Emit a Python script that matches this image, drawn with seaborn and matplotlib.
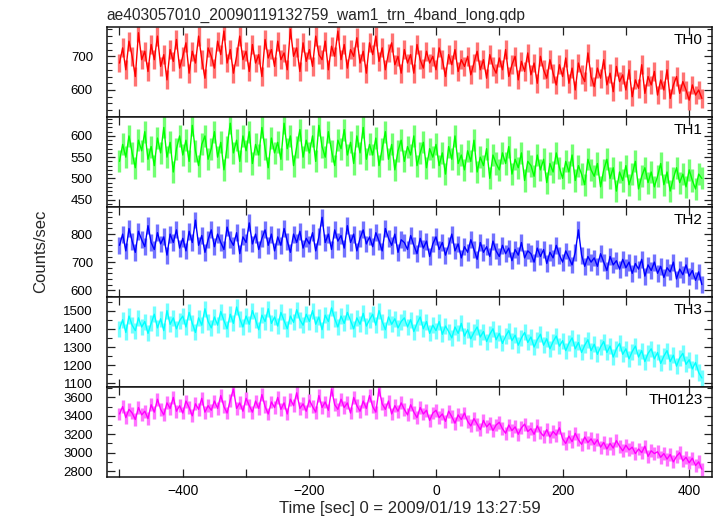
import numpy as np
import pandas as pd
import matplotlib
matplotlib.use("Agg")
import matplotlib.pyplot as plt
import seaborn as sns
from matplotlib.ticker import MultipleLocator
from matplotlib.colors import to_rgb

# ---------------- data (5 s sampling) ----------------
TITLE = "ae403057010_20090119132759_wam1_trn_4band_long.qdp"
XLABEL = "Time [sec] 0 = 2009/01/19 13:27:59"
YLABEL = "Counts/sec"

BANDS = ["TH0", "TH1", "TH2", "TH3", "TH0123"]
COLORS = ["#ff0000", "#00ff00", "#0000ff", "#00ffff", "#ff00ff"]
ERRORS = [28, 26, 30, 44, 70]          # typical 1-sigma bar sizes

TIME_START, TIME_STEP = -500, 5

th0 = [680, 725, 660, 745, 700, 640, 770, 690, 715, 655,
       735, 690, 760, 670, 705, 630, 720, 685, 750, 665,
       700, 740, 650, 715, 680, 760, 690, 635, 725, 700,
       665, 745, 705, 775, 680, 720, 650, 700, 760, 690,
       715, 655, 735, 680, 705, 640, 750, 695, 720, 670,
       745, 690, 710, 660, 780, 700, 725, 655, 740, 685,
       720, 670, 760, 705, 690, 745, 660, 730, 700, 775,
       690, 735, 665, 720, 700, 755, 680, 715, 650, 740,
       705, 760, 685, 725, 660, 710, 740, 675, 700, 650,
       720, 680, 705, 650, 735, 690, 665, 715, 680, 700,
       660, 725, 690, 640, 705, 675, 720, 655, 690, 670,
       700, 645, 680, 715, 660, 690, 635, 705, 670, 650,
       695, 660, 720, 640, 675, 700, 630, 685, 655, 710,
       645, 680, 620, 700, 660, 635, 690, 650, 615, 675,
       640, 695, 620, 665, 600, 680, 645, 625, 710, 640,
       610, 665, 635, 690, 615, 650, 595, 670, 625, 645,
       600, 660, 580, 630, 605, 675, 590, 640, 615, 655,
       585, 630, 600, 660, 575, 615, 640, 590, 625, 600,
       570, 615, 585, 600, 575]

th1 = [540, 580, 550, 600, 560, 525, 590, 565, 610, 545,
       575, 530, 595, 560, 620, 550, 585, 515, 570, 600,
       555, 590, 540, 625, 565, 530, 580, 600, 545, 570,
       610, 550, 585, 520, 575, 630, 560, 590, 540, 600,
       565, 610, 535, 580, 555, 620, 570, 525, 595, 560,
       585, 545, 630, 570, 600, 530, 575, 615, 550, 590,
       560, 600, 540, 625, 575, 550, 610, 565, 530, 590,
       570, 615, 555, 585, 535, 600, 560, 620, 545, 580,
       555, 595, 530, 570, 610, 545, 580, 520, 565, 590,
       540, 575, 555, 600, 530, 560, 585, 525, 570, 550,
       580, 530, 560, 510, 575, 545, 600, 535, 555, 520,
       565, 540, 590, 515, 550, 530, 570, 500, 555, 535,
       520, 560, 535, 575, 510, 545, 525, 560, 495, 540,
       530, 505, 555, 520, 545, 490, 535, 515, 560, 525,
       500, 540, 515, 555, 495, 530, 510, 485, 545, 520,
       505, 535, 480, 520, 545, 500, 525, 470, 515, 495,
       530, 485, 510, 540, 475, 505, 525, 490, 515, 480,
       505, 535, 485, 515, 470, 500, 525, 490, 510, 480,
       520, 495, 475, 510, 500]

th2 = [760, 800, 740, 820, 775, 735, 810, 780, 755, 830,
       770, 745, 805, 765, 790, 725, 800, 770, 815, 750,
       785, 740, 810, 770, 850, 760, 795, 735, 780, 815,
       755, 800, 770, 745, 825, 780, 760, 805, 730, 790,
       770, 840, 765, 800, 745, 785, 815, 760, 800, 740,
       790, 760, 820, 775, 735, 800, 770, 810, 750, 785,
       765, 805, 740, 790, 860, 770, 800, 745, 815, 775,
       795, 750, 830, 770, 800, 740, 785, 815, 765, 790,
       755, 805, 775, 740, 820, 785, 760, 800, 735, 780,
       770, 745, 795, 760, 730, 785, 750, 775, 720, 765,
       790, 745, 770, 725, 760, 800, 740, 765, 715, 755,
       735, 780, 745, 710, 770, 735, 755, 720, 775, 740,
       720, 760, 730, 750, 705, 745, 725, 770, 715, 740,
       730, 700, 750, 720, 745, 695, 735, 715, 760, 725,
       700, 740, 715, 690, 735, 815, 725, 685, 720, 700,
       715, 685, 730, 700, 670, 720, 690, 705, 675, 710,
       680, 700, 660, 695, 675, 710, 650, 690, 670, 700,
       660, 685, 645, 680, 665, 700, 640, 675, 655, 690,
       650, 670, 635, 665, 620]

th3 = [1400, 1450, 1380, 1470, 1420, 1390, 1460, 1410, 1440, 1375,
       1430, 1480, 1405, 1455, 1390, 1500, 1425, 1460, 1400, 1445,
       1470, 1410, 1490, 1430, 1380, 1460, 1420, 1510, 1440, 1405,
       1465, 1420, 1495, 1445, 1400, 1480, 1430, 1520, 1455, 1410,
       1470, 1425, 1500, 1450, 1395, 1475, 1440, 1510, 1430, 1465,
       1415, 1490, 1445, 1400, 1470, 1435, 1505, 1450, 1420, 1480,
       1440, 1500, 1425, 1465, 1395, 1475, 1440, 1515, 1455, 1410,
       1470, 1430, 1490, 1445, 1400, 1460, 1425, 1485, 1415, 1450,
       1480, 1420, 1500, 1440, 1395, 1465, 1425, 1455, 1405, 1440,
       1460, 1410, 1450, 1385, 1430, 1465, 1400, 1440, 1375, 1420,
       1390, 1440, 1370, 1415, 1385, 1350, 1410, 1375, 1430, 1360,
       1395, 1345, 1380, 1410, 1355, 1385, 1330, 1370, 1400, 1340,
       1375, 1320, 1360, 1390, 1335, 1365, 1310, 1350, 1380, 1325,
       1355, 1300, 1340, 1370, 1310, 1345, 1290, 1330, 1360, 1305,
       1335, 1280, 1320, 1350, 1290, 1325, 1270, 1310, 1340, 1280,
       1315, 1260, 1300, 1330, 1270, 1305, 1245, 1290, 1320, 1260,
       1290, 1235, 1275, 1305, 1245, 1280, 1220, 1265, 1290, 1235,
       1270, 1210, 1250, 1280, 1220, 1255, 1195, 1240, 1265, 1205,
       1230, 1180, 1215, 1160, 1130]

th0123 = [3420, 3500, 3380, 3470, 3430, 3360, 3490, 3410, 3450, 3370,
          3520, 3440, 3580, 3470, 3410, 3540, 3480, 3600, 3450, 3510,
          3430, 3560, 3490, 3400, 3530, 3470, 3590, 3440, 3510, 3460,
          3560, 3480, 3620, 3500, 3430, 3570, 3690, 3480, 3540, 3450,
          3590, 3510, 3440, 3560, 3480, 3630, 3500, 3420, 3550, 3490,
          3600, 3470, 3540, 3420, 3580, 3510, 3650, 3480, 3530, 3450,
          3570, 3500, 3440, 3620, 3490, 3550, 3460, 3690, 3520, 3470,
          3580, 3490, 3540, 3430, 3600, 3510, 3450, 3560, 3480, 3620,
          3500, 3440, 3690, 3530, 3470, 3560, 3420, 3510, 3450, 3540,
          3470, 3410, 3520, 3440, 3380, 3490, 3420, 3460, 3350, 3430,
          3460, 3380, 3420, 3340, 3450, 3390, 3320, 3410, 3360, 3430,
          3340, 3290, 3370, 3310, 3250, 3350, 3280, 3320, 3240, 3300,
          3330, 3260, 3210, 3300, 3240, 3280, 3200, 3270, 3310, 3230,
          3260, 3200, 3290, 3220, 3180, 3250, 3170, 3230, 3190, 3270,
          3150, 3100, 3180, 3120, 3210, 3140, 3090, 3170, 3110, 3150,
          3090, 3140, 3060, 3110, 3040, 3100, 3050, 3130, 3070, 3020,
          3080, 3030, 3060, 2990, 3040, 3000, 3070, 2960, 3020, 2990,
          3010, 2950, 2990, 2930, 2980, 2900, 2960, 3000, 2910, 2950,
          2890, 2940, 2860, 2900, 2820]

SERIES = [th0, th1, th2, th3, th0123]

# axis ranges / ticks per panel
YLIMS = [(519, 786), (432, 644), (575, 896), (1080, 1574), (2736, 3712)]
YMAJOR = [100, 50, 100, 100, 200]
YMINOR = [20, 10, 20, 50, 100]
XLIM = (-520, 436)

# ---------------- build table ----------------
rows = []
for band, vals in zip(BANDS, SERIES):
    t = TIME_START + TIME_STEP * np.arange(len(vals))
    rows.append(pd.DataFrame({"time": t, "rate": vals, "band": band}))
df = pd.concat(rows, ignore_index=True)

# ---------------- style ----------------
sns.set_theme(style="ticks")
plt.rcParams['font.family'] = ['Liberation Sans', 'DejaVu Sans']
plt.rcParams['axes.edgecolor'] = '#111111'
plt.rcParams['axes.linewidth'] = 1.1


def lighten(c, f=0.5):
    r, g, b = to_rgb(c)
    return (r + (1 - r) * f, g + (1 - g) * f, b + (1 - b) * f)


fig, axes = plt.subplots(5, 1, sharex=True, figsize=(7.17, 5.16), dpi=100)
fig.subplots_adjust(left=0.149, right=0.993, top=0.947, bottom=0.0756, hspace=0)

for i, (ax, band, col) in enumerate(zip(axes, BANDS, COLORS)):
    sub = df[df["band"] == band]
    ax.errorbar(sub["time"], sub["rate"], yerr=ERRORS[i], fmt='none',
                ecolor=lighten(col, 0.45), elinewidth=2.4, zorder=1)
    sns.lineplot(data=sub, x="time", y="rate", ax=ax, color=col,
                 linewidth=1.0, zorder=2, legend=False)
    ax.set_xlim(*XLIM)
    ax.set_ylim(*YLIMS[i])
    ax.yaxis.set_major_locator(MultipleLocator(YMAJOR[i]))
    ax.yaxis.set_minor_locator(MultipleLocator(YMINOR[i]))
    ax.xaxis.set_major_locator(MultipleLocator(200))
    ax.xaxis.set_minor_locator(MultipleLocator(100))
    ax.tick_params(axis='both', which='both', direction='in', top=True,
                   right=True, colors='#222222', labelcolor='black',
                   labelsize=10)
    ax.tick_params(axis='y', labelsize=9.5)
    ax.tick_params(axis='x', which='both', length=6, width=0.9, pad=5)
    ax.tick_params(axis='y', which='major', length=6, width=0.9, pad=10)
    ax.tick_params(axis='y', which='minor', length=3.5, width=0.8)
    ax.set_xlabel("")
    ax.set_ylabel("")
    ax.text(0.985, 0.86, band, transform=ax.transAxes, ha='right',
            va='center', fontsize=11, color='black')
    for sp in ax.spines.values():
        sp.set_visible(True)

axes[-1].set_xlabel(XLABEL, fontsize=12, labelpad=2)
fig.text(0.149, 0.971, TITLE, ha='left', va='center', fontsize=11.2)
fig.text(0.056, 0.512, YLABEL, rotation=90, ha='center', va='center',
         fontsize=12)

fig.savefig("out.png", dpi=100)
